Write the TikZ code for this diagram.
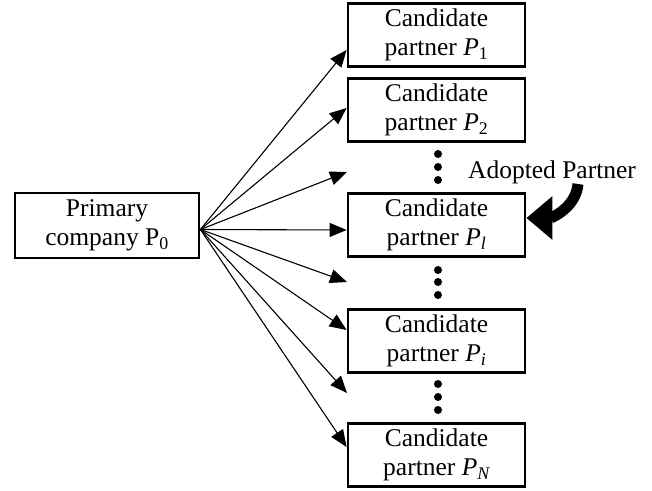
\documentclass[tikz,border=0pt]{standalone}
\usepackage{fontspec}
\setmainfont{Liberation Serif}
\usetikzlibrary{arrows.meta}
\usetikzlibrary{calc}
\tikzstyle{cand}=[draw, line width=2.8pt, minimum width=177pt, minimum height=63pt, inner sep=0pt, align=center, font=\fontsize{25.5}{29}\selectfont]
\tikzstyle{link}=[line width=1.1pt, -{Triangle[length=17pt,width=14pt]}]
\tikzstyle{dot}=[circle, fill, inner sep=0pt, minimum size=8pt]

\begin{document}
\begin{tikzpicture}[x=1pt, y=-1pt]
    \path [use as bounding box] (0,0) rectangle (652,490);
        \node [cand, minimum width=184pt, minimum height=65pt] (P0) at (107,225.5) {Primary\\company P\textsubscript{0}};
        \node [cand] (P1) at (436.5,35) {Candidate\\partner {\itshape P}\textsubscript{1}};
        \node [cand] (P2) at (436.5,110) {Candidate\\partner {\itshape P}\textsubscript{2}};
        \node [cand] (Pl) at (436.5,225) {Candidate\\partner {\itshape P}\textsubscript{\itshape l}};
        \node [cand] (Pi) at (436.5,341) {Candidate\\partner {\itshape P}\textsubscript{\itshape i}};
        \node [cand] (PN) at (436.5,455) {Candidate\\partner {\itshape P}\textsubscript{\itshape N}};
        \node [font=\fontsize{25.5}{29}\selectfont] (adopt) at (552,172) {Adopted Partner};
        \node [dot] (d1) at (438,154) {};
        \node [dot] (d2) at (438,167) {};
        \node [dot] (d3) at (438,180) {};
        \node [dot] (d4) at (438,270) {};
        \node [dot] (d5) at (438,282) {};
        \node [dot] (d6) at (438,295) {};
        \node [dot] (d7) at (438,384) {};
        \node [dot] (d8) at (438,397) {};
        \node [dot] (d9) at (438,410) {};
        \coordinate (src) at ($(P0.east)+(0,4)$);
        \coordinate (freeA) at (347,172);
        \coordinate (freeB) at (347,282);
        \coordinate (freeC) at (347,393);
        \coordinate (adoptstart) at (578,184);
        \draw [link] (src) -- ($(P1.west)+(0,15)$);
        \draw [link] (src) -- ($(P2.west)+(0,-2)$);
        \draw [link] (src) -- (freeA);
        \draw [link] (src) -- ($(Pl.west)+(0,5)$);
        \draw [link] (src) -- (freeB);
        \draw [link] (src) -- ($(Pi.west)+(0,-11)$);
        \draw [link] (src) -- (freeC);
        \draw [link] (src) -- ($(PN.west)+(0,-8)$);
        \draw [line width=11pt, -{Triangle[length=26pt,width=42pt]}] (adoptstart) to [out=-95, in=0] ($(Pl.east)+(0,-7)$);
    \end{tikzpicture}
\end{document}
